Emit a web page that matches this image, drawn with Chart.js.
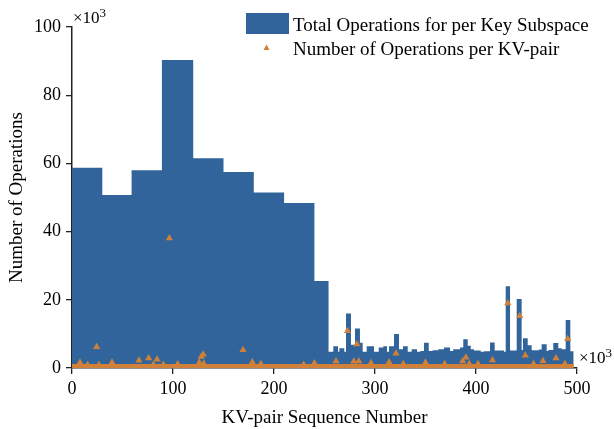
<!DOCTYPE html>
<html>
<head>
<meta charset="utf-8">
<script src="https://cdn.jsdelivr.net/npm/chart.js@4.4.1/dist/chart.umd.min.js"></script>
<style>
  html, body { margin: 0; padding: 0; background: #fff; }
</style>
</head>
<body>
<canvas id="c" width="614" height="429"></canvas>
<script>
// x values in units of 10^3 (KV-pair sequence number), y values in 10^3 operations
// key subspace bins: start of each bin, the bin height, and where the last bin ends
const binStarts = [0, 30, 59, 89, 120, 150, 180, 210, 240,
  254, 258.7, 263.4, 264.7, 269.6, 271.3, 276.2, 280.2, 285.1, 287.8,
  291.8, 299.0, 303.7, 308.2, 311.9, 313.9, 318.8, 323.8, 327.7, 332.4,
  336.3, 341.6, 344.9, 348.5, 353.2, 357.1, 362.7, 368.3, 374.3, 377.5,
  384.2, 387.4, 391.8, 394.8, 398.0, 404.7, 407.9, 413.9, 418.5, 427.7,
  429.4, 433.7, 440.3, 445.2, 446.5, 451.2, 455.1, 462.4, 465.0, 470.0,
  471.6, 476.5, 481.5, 484.8, 488.8, 493.4];
const binHeights = [58.7, 50.7, 58.0, 90.3, 61.5, 57.5, 51.5, 48.4, 25.5,
  4.8, 6.4, 4.8, 5.8, 4.8, 16.0, 6.8, 11.6, 7.4, 4.8,
  6.4, 4.8, 6.0, 6.4, 4.8, 6.4, 10.0, 5.5, 6.4, 4.8,
  5.5, 4.8, 5.0, 7.4, 5.0, 5.2, 5.5, 6.0, 5.0, 5.5,
  6.0, 8.4, 6.5, 5.5, 5.1, 4.8, 4.9, 7.5, 5.1, 4.8,
  24.0, 5.1, 20.2, 5.3, 8.7, 6.7, 5.2, 5.4, 7.0, 5.0,
  5.3, 7.3, 5.8, 5.5, 14.1, 4.9];
const binEnd = 496.7;

// operations per KV-pair (visible markers)
const pairX = [7.9, 15.5, 24.4, 26.7, 39.6, 66.3, 75.9, 80.5, 84.2, 90.4,
  96.4, 104.6, 126, 128, 130, 130.5, 169.3, 178.5, 187, 229.4,
  240, 261.4, 272.8, 279, 282, 284, 296, 314, 320.8, 328,
  350, 369, 386.8, 390, 393.4, 402, 416.3, 431.5, 443.3, 448.8,
  457, 466.3, 479.2, 488, 490.8];
const pairY = [1.6, 0.9, 6.2, 0.9, 1.6, 2.2, 2.9, 1.0, 2.5, 1.0,
  38.1, 1.1, 1.6, 3.3, 4.0, 1.3, 5.3, 1.7, 1.2, 1.0,
  1.4, 2.0, 10.9, 1.9, 7.0, 2.0, 1.5, 1.7, 4.3, 1.2,
  1.6, 1.2, 2.0, 3.1, 1.2, 1.2, 2.3, 19.0, 15.3, 3.7,
  1.2, 2.1, 2.9, 1.2, 8.5];
// the dense run of KV-pairs with about one operation each
const floorX = [0, 496.7];
const floorY = [0.6, 0.6];

const xTicks = [0, 100, 200, 300, 400, 500];
const yTicks = [0, 20, 40, 60, 80, 100];

const BLUE = '#31649a';
const ORANGE = '#d08038';
const FONT = "'Liberation Serif', 'Times New Roman', serif";

const stepPts = binStarts.map((x, i) => ({ x, y: binHeights[i] }));
stepPts.push({ x: binEnd, y: binHeights[binHeights.length - 1] });

const overlay = {
  id: 'overlay',
  afterDraw(chart) {
    const ctx = chart.ctx;
    const a = chart.chartArea;
    ctx.save();
    ctx.fillStyle = '#000';
    ctx.textBaseline = 'alphabetic';
    ctx.textAlign = 'left';
    // ×10^3 multipliers
    ctx.font = '17px ' + FONT;
    ctx.fillText('×10', a.left + 1, 23);
    let w = ctx.measureText('×10').width;
    ctx.font = '13px ' + FONT;
    ctx.fillText('3', a.left + 1 + w, 17);
    ctx.font = '17px ' + FONT;
    ctx.fillText('×10', a.right + 2, 363);
    ctx.font = '13px ' + FONT;
    ctx.fillText('3', a.right + 2 + w, 357);
    // legend
    ctx.fillStyle = BLUE;
    ctx.fillRect(246, 13, 43, 21);
    ctx.fillStyle = ORANGE;
    ctx.beginPath();
    ctx.moveTo(266.5, 44.5);
    ctx.lineTo(269.5, 50);
    ctx.lineTo(263.5, 50);
    ctx.closePath();
    ctx.fill();
    ctx.fillStyle = '#000';
    ctx.font = '19px ' + FONT;
    ctx.fillText('Total Operations for per Key Subspace', 293, 30.5);
    ctx.fillText('Number of Operations per KV-pair', 293, 54.5);
    ctx.restore();
  }
};

new Chart(document.getElementById('c'), {
  type: 'line',
  data: {
    datasets: [
      {
        label: 'Number of Operations per KV-pair',
        type: 'scatter',
        data: pairX.map((x, i) => ({ x, y: pairY[i] })),
        pointStyle: 'triangle',
        pointRadius: 4.2,
        backgroundColor: ORANGE,
        borderWidth: 0,
        order: 0
      },
      {
        label: 'floor',
        data: floorX.map((x, i) => ({ x, y: floorY[i] })),
        borderColor: ORANGE,
        borderWidth: 4,
        pointRadius: 0,
        fill: false,
        order: 1
      },
      {
        label: 'Total Operations for per Key Subspace',
        data: stepPts,
        stepped: 'before',
        borderColor: BLUE,
        borderWidth: 0,
        backgroundColor: BLUE,
        pointRadius: 0,
        fill: 'origin',
        order: 2
      }
    ]
  },
  options: {
    responsive: false,
    animation: false,
    layout: { padding: { top: 27, right: 37, left: 0, bottom: 0 } },
    plugins: { legend: { display: false }, tooltip: { enabled: false } },
    scales: {
      x: {
        type: 'linear', min: 0, max: 500,
        afterFit: (s) => { s.height = 61; },
        afterBuildTicks: (s) => { s.ticks = xTicks.map((v) => ({ value: v })); },
        ticks: { color: '#000', font: { family: FONT, size: 18 }, padding: 4, maxRotation: 0 },
        grid: { display: true, drawOnChartArea: false, tickLength: 6, color: '#222', lineWidth: 1.3 },
        border: { display: true, color: '#222', width: 1.5 },
        title: { display: true, text: 'KV-pair Sequence Number', color: '#000',
          font: { family: FONT, size: 19 }, padding: { top: 0, bottom: 0 } }
      },
      y: {
        type: 'linear', min: 0, max: 100,
        afterFit: (s) => { s.width = 72; },
        afterBuildTicks: (s) => { s.ticks = yTicks.map((v) => ({ value: v })); },
        ticks: { color: '#000', font: { family: FONT, size: 18 }, padding: 5 },
        grid: { display: true, drawOnChartArea: false, tickLength: 6, color: '#222', lineWidth: 1.3 },
        border: { display: true, color: '#222', width: 1.5 },
        title: { display: true, text: 'Number of Operations', color: '#000',
          font: { family: FONT, size: 19 }, padding: { top: 6, bottom: 0 } }
      }
    }
  },
  plugins: [overlay]
});
</script>
</body>
</html>
